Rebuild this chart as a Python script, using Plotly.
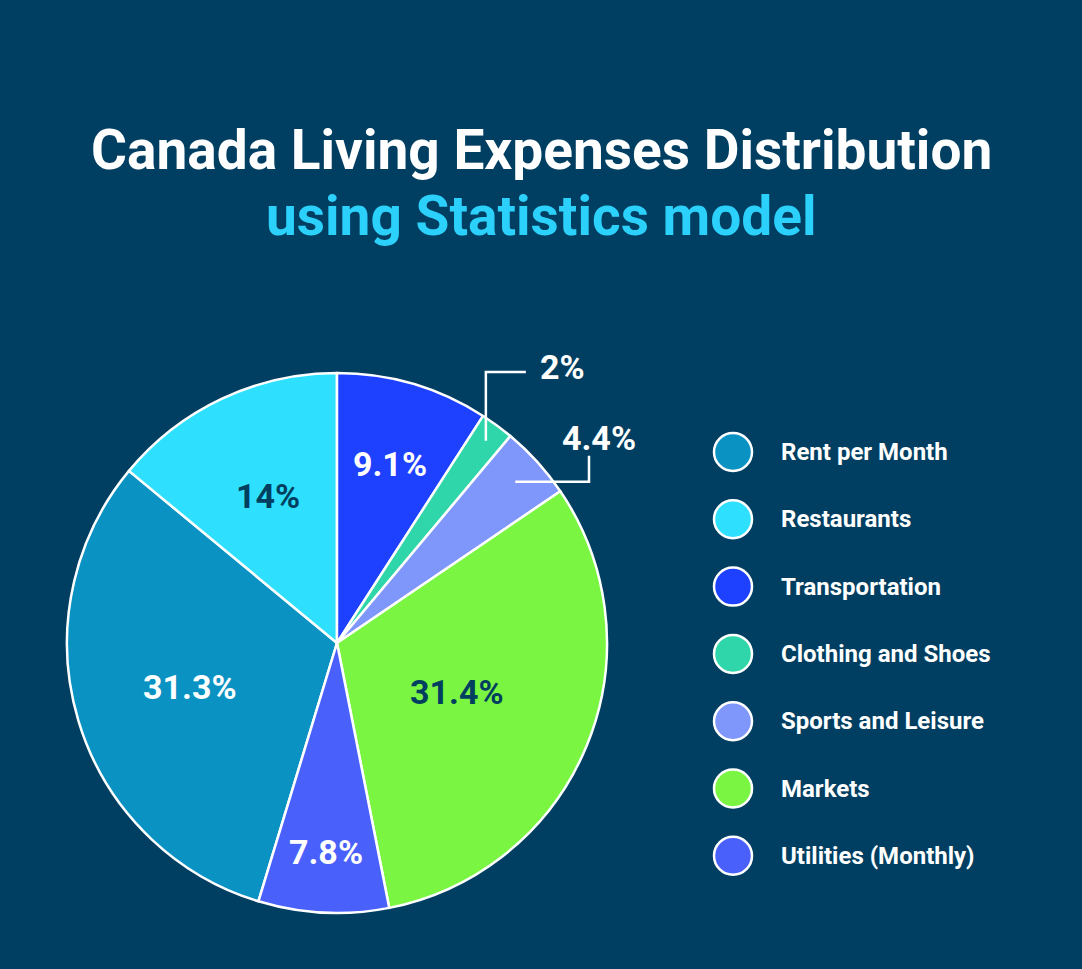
import math
import plotly.graph_objects as go

W, H = 1082, 969

categories = ["Rent per Month", "Restaurants", "Transportation", "Clothing and Shoes",
              "Sports and Leisure", "Markets", "Utilities (Monthly)"]
values = [31.3, 14, 9.1, 2, 4.4, 31.4, 7.8]
labels = ["31.3%", "14%", "9.1%", "2%", "4.4%", "31.4%", "7.8%"]
colors = ["#0a92c3", "#2ee0fd", "#1e40ff", "#2fd6a9", "#7f96fb", "#7af542", "#4a60fb"]

BG = "#013f62"
DARK = "#003f5f"
FONT = "Roboto"

# pie geometry (pixels)
CX, CY, R = 337, 643, 270

def px(x):
    return x / W

def py(y):
    return 1 - y / H

total = sum(values)
# start angle so that Transportation begins at 12 o'clock (clockwise)
before = sum(values[:2])
start_deg = -360 * before / total
rotation = start_deg

fig = go.Figure()
fig.add_trace(go.Pie(
    labels=categories, values=values, sort=False, direction="clockwise",
    rotation=rotation, textinfo="none", hoverinfo="label+percent",
    marker=dict(colors=colors, line=dict(color="white", width=2.5)),
    domain=dict(x=[px(CX - R), px(CX + R)], y=[py(CY + R), py(CY - R)]),
    showlegend=False,
))

mids = []
acc = start_deg
for v in values:
    span = 360 * v / total
    mids.append(acc + span / 2)
    acc += span

def pt(angle_deg, rfrac):
    a = math.radians(angle_deg)
    return CX + R * rfrac * math.sin(a), CY - R * rfrac * math.cos(a)

LBL = 34
annotations = []
inside_cfg = {0: (0.57, "white"), 1: (0.60, DARK), 2: (0.69, "white"),
              5: (0.48, DARK), 6: (0.775, "white")}
for i, (rf, col) in inside_cfg.items():
    x, y = pt(mids[i], rf)
    annotations.append(dict(x=px(x), y=py(y), xref="paper", yref="paper",
                            text=f"<b>{labels[i]}</b>", showarrow=False,
                            font=dict(family=FONT, size=LBL, color=col, weight=900),
                            xanchor="center", yanchor="middle"))

shapes = []
# leader line for Clothing (index 3): up, then right
x0, y0 = pt(mids[3], 0.93)
y1 = CY - R - 1
x2 = x0 + 40
shapes.append(dict(type="path", xref="paper", yref="paper",
                   path=f"M {px(x0)} {py(y0)} L {px(x0)} {py(y1)} L {px(x2)} {py(y1)}",
                   line=dict(color="white", width=2.5)))
annotations.append(dict(x=px(x2 + 12), y=py(y1 - 5), xref="paper", yref="paper",
                        text=f"<b>{labels[3]}</b>", showarrow=False,
                        font=dict(family=FONT, size=LBL, color="white", weight=900),
                        xanchor="left", yanchor="middle"))
# leader line for Sports (index 4): right, then up
x0, y0 = pt(mids[4], 0.89)
x1 = CX + R - 18
y2 = y0 - 26
shapes.append(dict(type="path", xref="paper", yref="paper",
                   path=f"M {px(x0)} {py(y0)} L {px(x1)} {py(y0)} L {px(x1)} {py(y2)}",
                   line=dict(color="white", width=2.5)))
annotations.append(dict(x=px(x1 + 10), y=py(y2 - 18), xref="paper", yref="paper",
                        text=f"<b>{labels[4]}</b>", showarrow=False,
                        font=dict(family=FONT, size=LBL, color="white", weight=900),
                        xanchor="center", yanchor="middle"))

# legend (circles + labels)
LX, LY0, LDY, LR = 733, 452, 67.3, 19
for i, (cat, col) in enumerate(zip(categories, colors)):
    cy = LY0 + i * LDY
    shapes.append(dict(type="circle", xref="paper", yref="paper",
                       x0=px(LX - LR), x1=px(LX + LR), y0=py(cy + LR), y1=py(cy - LR),
                       fillcolor=col, line=dict(color="white", width=2.5)))
    annotations.append(dict(x=px(779), y=py(cy), xref="paper", yref="paper",
                            text=f"<b>{cat}</b>", showarrow=False,
                            font=dict(family=FONT, size=24, color="white", weight=900),
                            xanchor="left", yanchor="middle"))

# titles
annotations.append(dict(x=0.5, y=py(150), xref="paper", yref="paper",
                        text="<b>Canada Living Expenses Distribution</b>", showarrow=False,
                        font=dict(family=FONT, size=55, color="white", weight=900),
                        xanchor="center", yanchor="middle"))
annotations.append(dict(x=0.5, y=py(216), xref="paper", yref="paper",
                        text="<b>using Statistics model</b>", showarrow=False,
                        font=dict(family=FONT, size=55, color="#2bd0fb", weight=900),
                        xanchor="center", yanchor="middle"))

fig.update_layout(
    width=W, height=H, margin=dict(l=0, r=0, t=0, b=0),
    paper_bgcolor=BG, plot_bgcolor=BG,
    annotations=annotations, shapes=shapes,
)

fig.write_html(
    "out.html",
    config={"displayModeBar": False},
    post_script="document.body.style.margin='0';document.body.style.background='" + BG + "';document.body.style.overflow='hidden';",
)
